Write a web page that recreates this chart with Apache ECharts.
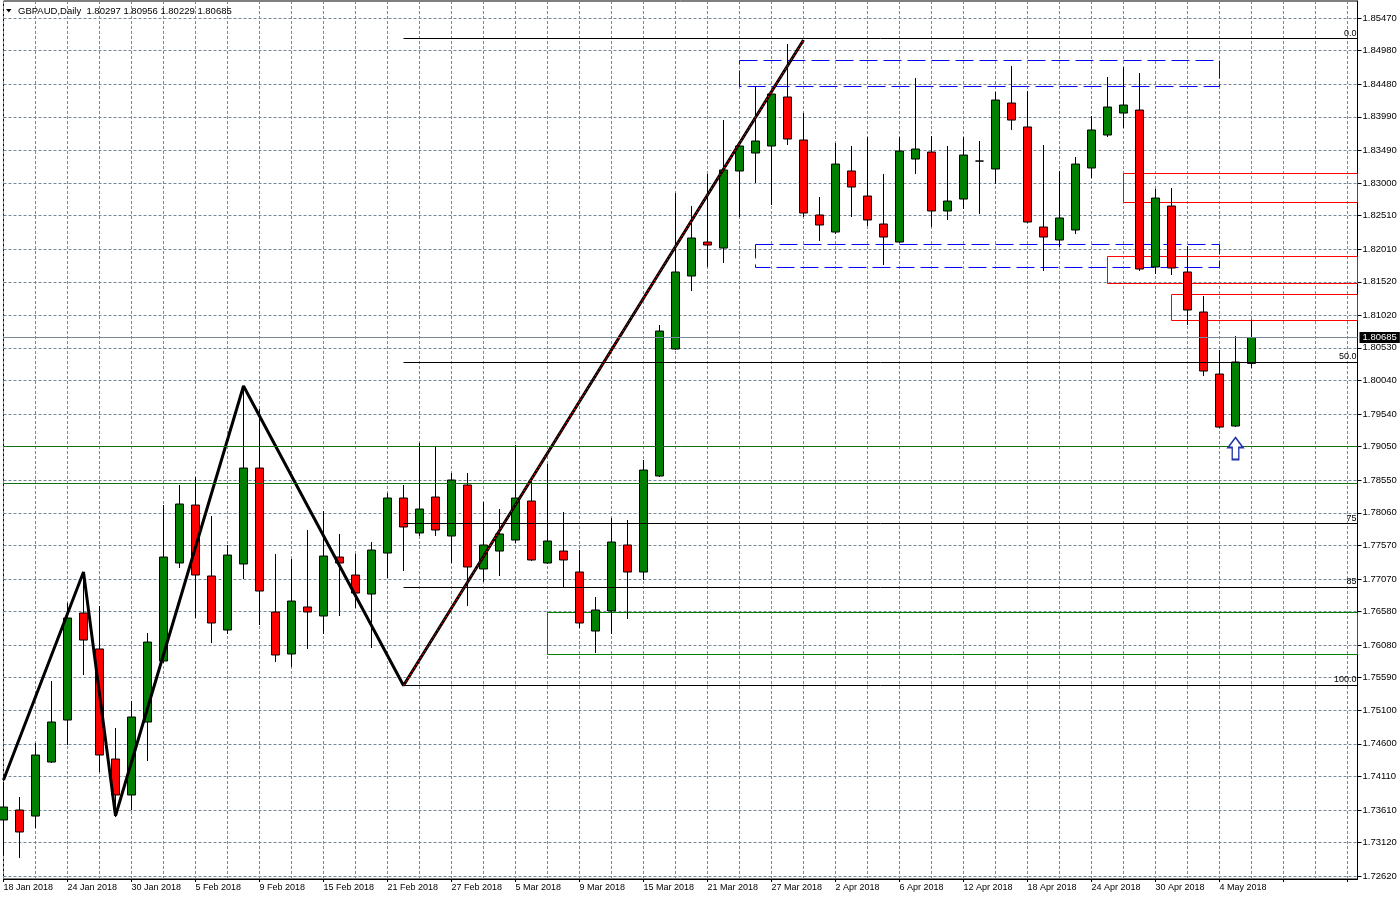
<!DOCTYPE html>
<html>
<head>
<meta charset="utf-8">
<title>GBPAUD, Daily</title>
<script src="https://cdn.jsdelivr.net/npm/echarts@6.0.0/dist/echarts.min.js"></script>
<style>
  html, body { margin: 0; padding: 0; background: #ffffff; }
  #chart { width: 1400px; height: 900px; }
</style>
</head>
<body>
<div id="chart"></div>
<script>
// ---------- data ----------
const dates = [
  '18 Jan 2018','19 Jan 2018','22 Jan 2018','23 Jan 2018','24 Jan 2018','25 Jan 2018','26 Jan 2018','29 Jan 2018',
  '30 Jan 2018','31 Jan 2018','1 Feb 2018','2 Feb 2018','5 Feb 2018','6 Feb 2018','7 Feb 2018','8 Feb 2018',
  '9 Feb 2018','12 Feb 2018','13 Feb 2018','14 Feb 2018','15 Feb 2018','16 Feb 2018','19 Feb 2018','20 Feb 2018',
  '21 Feb 2018','22 Feb 2018','23 Feb 2018','26 Feb 2018','27 Feb 2018','28 Feb 2018','1 Mar 2018','2 Mar 2018',
  '5 Mar 2018','6 Mar 2018','7 Mar 2018','8 Mar 2018','9 Mar 2018','12 Mar 2018','13 Mar 2018','14 Mar 2018',
  '15 Mar 2018','16 Mar 2018','19 Mar 2018','20 Mar 2018','21 Mar 2018','22 Mar 2018','23 Mar 2018','26 Mar 2018',
  '27 Mar 2018','28 Mar 2018','29 Mar 2018','30 Mar 2018','2 Apr 2018','3 Apr 2018','4 Apr 2018','5 Apr 2018',
  '6 Apr 2018','9 Apr 2018','10 Apr 2018','11 Apr 2018','12 Apr 2018','13 Apr 2018','16 Apr 2018','17 Apr 2018',
  '18 Apr 2018','19 Apr 2018','20 Apr 2018','23 Apr 2018','24 Apr 2018','25 Apr 2018','26 Apr 2018','27 Apr 2018',
  '30 Apr 2018','1 May 2018','2 May 2018','3 May 2018','4 May 2018','7 May 2018','8 May 2018'
];

// [open, close, low, high]
const candles = [
  [1.73459,1.73653,1.72934,1.74028],[1.73608,1.73279,1.72889,1.73803],[1.73518,1.74432,1.73339,1.74612],[1.74327,1.74926,1.74312,1.75540],
  [1.74956,1.76484,1.74582,1.76709],[1.76559,1.76154,1.75630,1.77173],[1.76020,1.74432,1.74177,1.76664],[1.74372,1.73833,1.73503,1.74836],
  [1.73833,1.75001,1.73608,1.75241],[1.74926,1.76124,1.74342,1.76259],[1.75840,1.77397,1.75810,1.78176],[1.77308,1.78191,1.77233,1.78476],
  [1.78176,1.77128,1.76484,1.78596],[1.77113,1.76409,1.76109,1.78012],[1.76304,1.77427,1.76244,1.77577],[1.77293,1.78730,1.77068,1.79959],
  [1.78730,1.76888,1.76379,1.79614],[1.76574,1.75930,1.75825,1.77442],[1.75945,1.76738,1.75750,1.77368],[1.76649,1.76574,1.76020,1.77802],
  [1.76514,1.77412,1.76244,1.78086],[1.77397,1.77308,1.76514,1.77742],[1.77128,1.76858,1.76634,1.77442],[1.76843,1.77502,1.76035,1.77622],
  [1.77457,1.78281,1.77083,1.78356],[1.78281,1.77847,1.77188,1.78476],[1.77757,1.78116,1.77712,1.79105],[1.78296,1.77802,1.77712,1.79045],
  [1.77712,1.78551,1.77308,1.78656],[1.78476,1.77248,1.76664,1.78656],[1.77218,1.77577,1.77023,1.78221],[1.77487,1.77742,1.77113,1.78116],
  [1.77652,1.78281,1.77607,1.79075],[1.78236,1.77353,1.77338,1.78551],[1.77308,1.77637,1.77293,1.78790],[1.77487,1.77353,1.76948,1.78071],
  [1.77173,1.76409,1.76334,1.77502],[1.76289,1.76604,1.75960,1.76798],[1.76589,1.77622,1.76244,1.77982],[1.77577,1.77173,1.76469,1.77952],
  [1.77173,1.78700,1.77053,1.78850],[1.78611,1.80782,1.78596,1.80872],[1.80513,1.81666,1.80498,1.82849],[1.81606,1.82175,1.81381,1.82654],
  [1.82115,1.82070,1.81741,1.83134],[1.82025,1.83194,1.81801,1.83942],[1.83179,1.83553,1.82490,1.83598],[1.83448,1.83628,1.82999,1.84437],
  [1.83553,1.84332,1.82669,1.84392],[1.84287,1.83658,1.83568,1.85081],[1.83643,1.82550,1.82490,1.84047],[1.82520,1.82370,1.82130,1.82789],
  [1.82265,1.83283,1.82235,1.83598],[1.83179,1.82939,1.82490,1.83553],[1.82804,1.82445,1.82355,1.83688],[1.82385,1.82190,1.81771,1.83134],
  [1.82115,1.83478,1.82100,1.83688],[1.83358,1.83508,1.83134,1.84571],[1.83463,1.82580,1.82340,1.83703],[1.82580,1.82729,1.82445,1.83553],
  [1.82759,1.83418,1.82609,1.83688],[1.83328,1.83328,1.82535,1.83628],[1.83209,1.84242,1.82984,1.84362],[1.84197,1.83942,1.83793,1.84751],
  [1.83838,1.82415,1.82400,1.84377],[1.82340,1.82190,1.81681,1.83568],[1.82145,1.82475,1.82040,1.83179],[1.82295,1.83283,1.82235,1.83388],
  [1.83224,1.83793,1.83074,1.84002],[1.83718,1.84137,1.83688,1.84586],[1.84047,1.84167,1.83823,1.84736],[1.84092,1.81711,1.81681,1.84646],
  [1.81741,1.82774,1.81636,1.82909],[1.82654,1.81726,1.81621,1.82924],[1.81666,1.81097,1.80872,1.82055],[1.81067,1.80183,1.80108,1.81306],
  [1.80138,1.79344,1.79329,1.80498],[1.79359,1.80318,1.79344,1.80707],[1.80297,1.80685,1.80229,1.80956]
];

const yTicks = [1.85470,1.84980,1.84480,1.83990,1.83490,1.83000,1.82510,1.82010,1.81520,1.81020,1.80530,1.80040,1.79540,
  1.79050,1.78550,1.78060,1.77570,1.77070,1.76580,1.76080,1.75590,1.75100,1.74600,1.74110,1.73610,1.73120,1.72620];

// hand-drawn trend lines (bar index, price)
const zigzagIdx   = [0, 5, 7, 15, 25, 50];
const zigzagPrice = [1.74058, 1.77173, 1.73523, 1.79959, 1.75473, 1.85141];

// Fibonacci levels
const fibStartIdx = 25;
const fibLabels = ['0.0', '50.0', '75', '85', '100.0'];
const fibPrices = [1.85163, 1.80311, 1.77899, 1.76941, 1.75473];

// rectangles: [startIdx, endIdx (null = right edge), priceTop, priceBottom]
const blueRects  = [[46, 76, 1.84834, 1.84444], [47, 76, 1.82078, 1.81734]];
const redRects   = [[70, null, 1.83141, 1.82707], [69, null, 1.81898, 1.81494], [73, null, 1.81329, 1.80940]];
const greenRects = [[34, null, 1.76566, 1.75937]];
const greenLines = [1.79053, 1.78499];
const lastPrice = 1.80685;
const arrowIdx = 77, arrowPrice = 1.79022;
const titleText = 'GBPAUD,Daily  1.80297 1.80956 1.80229 1.80685';

// ---------- chart ----------
const FONT = '"Liberation Sans", Arial, sans-serif';
const xMin = 0, xMax = 84.625;
const yMin = 1.72575, yMax = 1.85725;
const gridDash = { color: '#778899', width: 1, type: [3, 2] };

function rectAreas(list, color, dash) {
  return list.map(r => [
    { coord: [r[0], r[2]], itemStyle: { color: 'rgba(0,0,0,0)', opacity: 1, borderColor: color, borderWidth: 1, borderType: dash } },
    { coord: [r[1] == null ? xMax : r[1], r[3]] }
  ]);
}

const chart = echarts.init(document.getElementById('chart'), null, { renderer: 'canvas' });

const option = {
  animation: false,
  backgroundColor: '#ffffff',
  textStyle: { fontFamily: FONT },
  grid: {
    left: 3.5, right: 42.5, top: 1, bottom: 21,
    show: true, borderColor: '#000', borderWidth: 1, backgroundColor: 'transparent',
    containLabel: false, outerBoundsMode: 'none'
  },
  xAxis: {
    type: 'value', min: xMin, max: xMax, interval: 4,
    axisLine: { show: true, onZero: false, lineStyle: { color: '#000', width: 1 } },
    axisTick: { show: true, length: 3, lineStyle: { color: '#000' } },
    axisLabel: {
      show: true, color: '#000', fontSize: 9, fontFamily: FONT, align: 'left', margin: 4,
      showMinLabel: true, showMaxLabel: false,
      formatter: function (v) { const i = Math.round(v); return (Math.abs(v - i) < 0.01 && dates[i]) ? dates[i] : ''; }
    },
    splitLine: { show: true, lineStyle: gridDash },
    minorTick: { show: false, splitNumber: 2 },
    minorSplitLine: { show: true, lineStyle: gridDash }
  },
  yAxis: {
    type: 'value', position: 'right', min: yMin, max: yMax, scale: true,
    axisLine: { show: true, onZero: false, lineStyle: { color: '#000', width: 1 } },
    axisTick: { show: true, length: 4, lineStyle: { color: '#000' }, customValues: yTicks },
    axisLabel: { show: true, color: '#000', fontSize: 9.5, fontFamily: FONT, margin: 5, customValues: yTicks,
      formatter: function (v) { return v.toFixed(5); } },
    splitLine: { show: true, lineStyle: gridDash }
  },
  graphic: [
    { type: 'polygon', silent: true, shape: { points: [[6, 9], [11.5, 9], [8.75, 12.5]] }, style: { fill: '#000' }, z: 100 },
    { type: 'text', silent: true, left: 18, top: 6, z: 100,
      style: { text: titleText, fill: '#000', fontSize: 9.5, fontFamily: FONT } }
  ],
  series: [
    {
      name: 'objects-back', type: 'line', data: [], silent: true, z: 1,
      markLine: {
        silent: true, symbol: ['none', 'none'], animation: false, precision: 6,
        data: greenLines.map(v => ({ yAxis: v, lineStyle: { color: '#107010', width: 1, type: 'solid' }, label: { show: false } }))
          .concat([{ yAxis: lastPrice, lineStyle: { color: '#778899', width: 1, type: 'solid' },
            label: { show: true, position: 'end', distance: 2, formatter: lastPrice.toFixed(5), color: '#fff',
              backgroundColor: '#000', padding: [1, 3, 0, 3], fontSize: 9.5, fontFamily: FONT } }])
      }
    },
    {
      name: 'GBPAUD', type: 'candlestick', z: 2, silent: true, clip: true,
      data: candles.map((c, i) => [i, c[0], c[1], c[2], c[3]]),
      encode: { x: 0, y: [1, 2, 3, 4] },
      barWidth: 9,
      itemStyle: { color: '#008000', color0: '#ff0000', borderColor: '#000', borderColor0: '#000', borderColorDoji: '#000', borderWidth: 1 }
    },
    {
      name: 'objects', type: 'line', data: [], silent: true, z: 3,
      markArea: {
        silent: true, label: { show: false },
        itemStyle: { opacity: 1 },
        data: rectAreas(blueRects, '#0000ff', [18, 6])
          .concat(rectAreas(redRects, '#ff0000', 'solid'))
          .concat(rectAreas(greenRects, '#008000', 'solid'))
      },
      markLine: {
        silent: true, symbol: ['none', 'none'], animation: false, precision: 6,
        lineStyle: { color: '#000', width: 1, type: 'solid' },
        label: { show: true, position: 'insideEndTop', formatter: '{b}', color: '#000', fontSize: 9, fontFamily: FONT, distance: [1, 1] },
        data: fibPrices.map((v, k) => [{ coord: [fibStartIdx, v], name: fibLabels[k] }, { coord: [xMax, v] }])
      },
      markPoint: {
        silent: true, animation: false, label: { show: false },
        data: [{ coord: [arrowIdx, arrowPrice], symbol: 'path://M8,0 L16,10 L11.5,10 L11.5,22 L4.5,22 L4.5,10 L0,10 Z',
          symbolSize: [15, 22], symbolKeepAspect: false,
          itemStyle: { color: '#ffffff', borderColor: '#1f35a8', borderWidth: 1.6 } }]
      }
    },
    {
      name: 'trend', type: 'line', z: 4, silent: true, symbol: 'none', clip: true,
      data: zigzagIdx.map((x, k) => [x, zigzagPrice[k]]),
      lineStyle: { color: '#000', width: 3 }
    },
    {
      name: 'trend-red', type: 'line', z: 5, silent: true, symbol: 'none', clip: true,
      data: zigzagIdx.slice(4).map((x, k) => [x, zigzagPrice[k + 4]]),
      lineStyle: { color: '#ff0000', width: 1, type: [2, 2] }
    }
  ]
};

chart.setOption(option);
</script>
</body>
</html>
